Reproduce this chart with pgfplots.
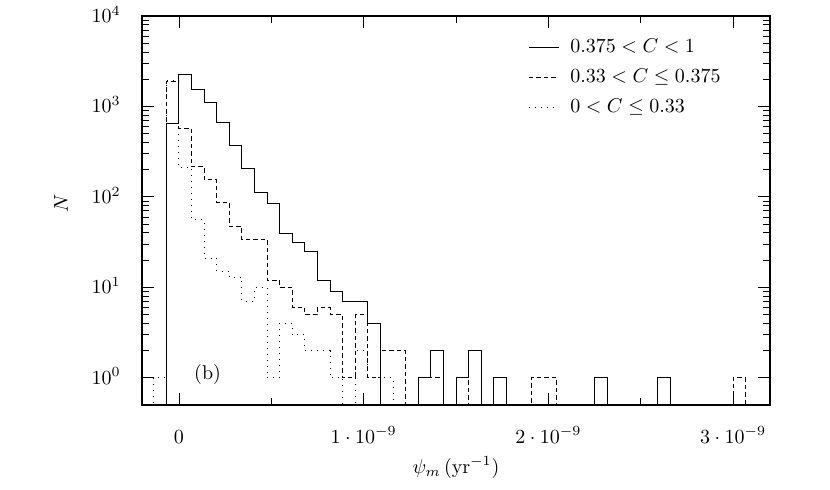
\documentclass[border=0pt]{standalone}
\usepackage{pgfplots}
\usepackage{pgfplotstable}
\pgfplotsset{compat=1.18}
% x in units of 1e-9 yr^-1 (left bin edges), bin width 3/44
\pgfplotstableread{
x N
-0.13636 0.01
-0.06818 650
0.00000 2230
0.06818 1550
0.13636 1100
0.20455 663
0.27273 366
0.34091 206
0.40909 112
0.47727 84
0.54545 39
0.61364 31
0.68182 25
0.75000 12
0.81818 9
0.88636 7
0.95455 7
1.02273 4
1.09091 0.01
1.29545 1
1.36364 2
1.43182 0.01
1.50000 1
1.56818 2
1.63636 0.01
1.70455 1
1.77273 0.01
2.25000 1
2.31818 0.01
2.59091 1
2.65909 0.01
2.72727 0.01
}\solid
\pgfplotstableread{
x N
-0.13636 0.01
-0.06818 1900
0.00000 575
0.06818 215
0.13636 154
0.20455 87
0.27273 47
0.34091 34
0.40909 34
0.47727 12
0.54545 10
0.61364 6
0.68182 5
0.75000 6
0.81818 5
0.88636 1
0.95455 5
1.02273 1
1.09091 2
1.15909 2
1.22727 0.01
1.29545 1
1.36364 1
1.43182 0.01
1.50000 1
1.56818 0.01
1.90909 1
1.97727 1
2.04545 0.01
3.00000 1
3.06818 0.01
3.13636 0.01
}\dashedset
\pgfplotstableread{
x N
-0.20455 0.01
-0.13636 1
-0.06818 1950
0.00000 210
0.06818 56
0.13636 21
0.20455 15
0.27273 13
0.34091 7
0.40909 10
0.47727 1
0.54545 4
0.61364 3
0.68182 2
0.75000 2
0.81818 1
0.88636 0.01
0.95455 2
1.02273 1
1.09091 1
1.15909 0.01
1.22727 0.01
}\dottedset
\begin{document}
\begin{tikzpicture}
\useasboundingbox (0pt,0pt) rectangle (415pt,244.5pt);
\begin{axis}[
  at={(71pt,42pt)}, anchor=south west,
  scale only axis, width=314pt, height=194.5pt,
  xmin=-0.2, xmax=3.2,
  ymode=log, ymin=0.5, ymax=10000,
  xtick={0,1,2,3},
  xticklabels={$0$,$1\cdot 10^{-9}$,$2\cdot 10^{-9}$,$3\cdot 10^{-9}$},
  minor xtick={0.5,1.5,2.5},
  scaled x ticks=false,
  ytick={1,10,100,1000,10000},
  tick align=inside,
  major tick length=6pt,
  minor tick length=3.5pt,
  tick style={black, line width=0.4pt},
  axis line style={line width=0.6pt},
  xticklabel style={anchor=base, yshift=-19pt},
  yticklabel style={anchor=base east, yshift=-3.2pt, xshift=-7.2pt},
  xlabel={$\psi_m\,(\mathrm{yr}^{-1})$},
  xlabel style={at={(axis description cs:0.5,0)}, anchor=base, yshift=-34pt},
  ylabel={$N$},
  ylabel style={at={(axis description cs:-0.129,0.518)}, anchor=center},
  legend style={draw=none, fill=none, at={(axis description cs:0.605,0.962)}, anchor=north west,
    row sep=2.6pt, font=\normalsize,
    /tikz/every odd column/.append style={column sep=3.5pt}},
  legend cell align=left,
  legend image code/.code={\draw[#1] (0pt,0pt) -- (15pt,0pt);},
  clip=true,
]
\addplot[const plot, black, line width=0.5pt] table[x=x,y=N] {\solid};
\addlegendentry{$0.375 < C < 1$}
\addplot[const plot, black, line width=0.5pt, dash pattern=on 2.25pt off 1.5pt] table[x=x,y=N] {\dashedset};
\addlegendentry{$0.33 < C \leq 0.375$}
\addplot[const plot, black, line width=0.5pt, dash pattern=on 0.5pt off 2.5pt] table[x=x,y=N] {\dottedset};
\addlegendentry{$0 < C \leq 0.33$}
\node at (axis cs:0.155,1.09) {(b)};
\end{axis}
\end{tikzpicture}
\end{document}
